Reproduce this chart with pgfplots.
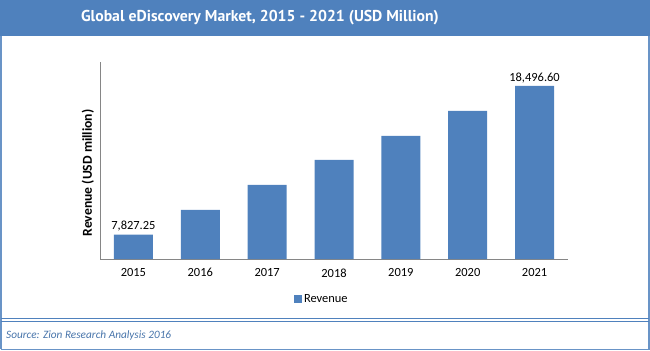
\documentclass[border=0pt]{standalone}
\usepackage{pgfplots}
\pgfplotsset{compat=1.18}
\usepackage{fontspec}
\setmainfont{Carlito}
\newfontfamily\titlefont{PT Sans}
\definecolor{barblue}{HTML}{4F81BD}
\definecolor{axisgray}{HTML}{868686}
\begin{document}
\begin{tikzpicture}[x=1bp,y=1bp]
\useasboundingbox (0,0) rectangle (650,350);
% title bar
\fill[barblue] (0,314.5) rectangle (650,350);
\node[font=\titlefont\bfseries\fontsize{15.8}{18}\selectfont, text=white] at (260,332.5) {Global eDiscovery Market, 2015 - 2021 (USD Million)};
% frame
\draw[barblue!85, line width=1.5bp] (1,0.75) -- (1,314.5) (649,314.5) -- (649,0.75) -- (1,0.75);
\draw[barblue, line width=1bp] (1,31.7) -- (649,31.7) (1,28.3) -- (649,28.3);
\node[font=\itshape\fontsize{11.3}{13}\selectfont, text=barblue!90!black, anchor=west, inner sep=0pt] at (6,15) {Source: Zion Research Analysis 2016};
\begin{axis}[
  at={(100bp,91bp)}, anchor=south west,
  width=468bp, height=197bp, scale only axis,
  ymin=6087, ymax=20215,
  xmin=-0.5, xmax=6.5,
  axis x line*=bottom, axis y line*=left,
  axis line style={axisgray, line width=1bp},
  ytick=\empty,
  xtick={0,...,6},
  xticklabels={2015,2016,2017,2018,2019,2020,2021},
  major tick length=0pt,
  xticklabel style={font=\fontsize{12.5}{14}\selectfont, yshift=-6bp},
  ylabel={\bfseries Revenue (USD million)},
  ylabel style={font=\fontsize{13.7}{15}\selectfont, at={(axis description cs:-0.026,0.437)}, anchor=center},
  ybar, bar width=39bp, bar shift=0pt,
  point meta=explicit symbolic,
  nodes near coords={\pgfplotspointmeta},
  nodes near coords style={font=\fontsize{12.5}{14}\selectfont, text=black, inner sep=3bp},
  legend style={at={(axis description cs:0.474,-0.203)}, anchor=center, draw=none, font=\fontsize{12.5}{14}\selectfont, inner sep=0pt},
  legend image code/.code={\fill[barblue] (0bp,-4bp) rectangle (8bp,4bp);},
  clip=false,
]
\addplot[fill=barblue, draw=none] table[x=x, y=y, meta=lab] {
x y lab
0 7827.25 {7,827.25}
1 9617 {}
2 11408 {}
3 13198 {}
4 14916 {}
5 16707 {}
6 18496.60 {18,496.60}
};
\addlegendentry{Revenue}
\end{axis}
\end{tikzpicture}
\end{document}
